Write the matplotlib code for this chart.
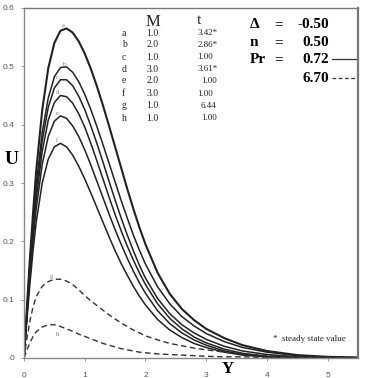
import matplotlib
matplotlib.use("Agg")
import matplotlib.pyplot as plt

Y = [0, 0.05, 0.1, 0.15, 0.2, 0.3, 0.4, 0.5, 0.6, 0.7, 0.8, 0.9, 1.0, 1.1, 1.2, 1.3, 1.4, 1.5,
     1.6, 1.7, 1.8, 1.9, 2.0, 2.2, 2.4, 2.6, 2.8, 3.0, 3.3, 3.6, 4.0, 4.5, 5.0, 5.5]

U_a = [0, 0.09, 0.175, 0.25, 0.32, 0.425, 0.497, 0.54, 0.561, 0.565, 0.558, 0.543, 0.522, 0.496, 0.466, 0.433,
       0.398, 0.362, 0.326, 0.29, 0.256, 0.224, 0.195, 0.146, 0.11, 0.084, 0.065, 0.05, 0.034, 0.022, 0.012,
       0.005, 0.002, 0.001]
U_b = [0, 0.085, 0.165, 0.235, 0.295, 0.387, 0.446, 0.482, 0.498, 0.499, 0.49, 0.474, 0.452, 0.426, 0.397, 0.366,
       0.334, 0.302, 0.27, 0.24, 0.211, 0.185, 0.161, 0.122, 0.093, 0.071, 0.055, 0.042, 0.028, 0.018, 0.01,
       0.004, 0.001, 0.0]
U_c = [0, 0.082, 0.16, 0.228, 0.285, 0.372, 0.43, 0.463, 0.477, 0.477, 0.467, 0.449, 0.426, 0.398, 0.368, 0.336,
       0.303, 0.271, 0.24, 0.211, 0.184, 0.159, 0.137, 0.102, 0.076, 0.057, 0.043, 0.032, 0.02, 0.012, 0.006,
       0.002, 0.001, 0.0]
U_d = [0, 0.078, 0.152, 0.217, 0.272, 0.354, 0.408, 0.438, 0.45, 0.448, 0.437, 0.419, 0.396, 0.368, 0.338, 0.307,
       0.276, 0.246, 0.218, 0.192, 0.168, 0.146, 0.126, 0.093, 0.068, 0.05, 0.036, 0.026, 0.015, 0.008, 0.003,
       0.001, 0.0, 0.0]
U_e = [0, 0.074, 0.143, 0.204, 0.255, 0.332, 0.38, 0.406, 0.415, 0.411, 0.398, 0.38, 0.357, 0.331, 0.303, 0.275,
       0.247, 0.22, 0.195, 0.171, 0.149, 0.129, 0.111, 0.081, 0.059, 0.043, 0.031, 0.022, 0.012, 0.006, 0.002,
       0.001, 0.0, 0.0]
U_f = [0, 0.068, 0.13, 0.185, 0.232, 0.3, 0.341, 0.362, 0.368, 0.362, 0.348, 0.329, 0.307, 0.283, 0.258, 0.233,
       0.208, 0.184, 0.162, 0.142, 0.123, 0.106, 0.091, 0.066, 0.048, 0.035, 0.025, 0.018, 0.01, 0.005, 0.002,
       0.001, 0.0, 0.0]
U_g = [0, 0.035, 0.065, 0.088, 0.105, 0.123, 0.131, 0.135, 0.135, 0.132, 0.126, 0.117, 0.107, 0.098, 0.09, 0.082,
       0.074, 0.067, 0.06, 0.054, 0.048, 0.043, 0.038, 0.031, 0.025, 0.021, 0.017, 0.014, 0.01, 0.007, 0.004,
       0.002, 0.001, 0.0]
U_h = [0, 0.014, 0.027, 0.037, 0.045, 0.053, 0.057, 0.057, 0.054, 0.05, 0.046, 0.041, 0.037, 0.033, 0.029, 0.025,
       0.022, 0.019, 0.016, 0.014, 0.012, 0.01, 0.009, 0.007, 0.006, 0.005, 0.004, 0.003, 0.002, 0.002, 0.001,
       0.0, 0.0, 0.0]

curve_names = ["a", "b", "c", "d", "e", "f", "g", "h"]
M_vals = ["1.0", "2.0", "1.0", "3.0", "2.0", "3.0", "1.0", "1.0"]
t_vals = ["3.42*", "2.86*", "1.00", "3.61*", "1.00", "1.00", "6.44", "1.00"]
params = [("Δ", "=", "-0.50"), ("n", "=", "0.50"), ("Pr", "=", "0.72")]
Pr2 = "6.70"
x_ticks = [0, 1, 2, 3, 4, 5]
y_ticks = [0, 0.1, 0.2, 0.3, 0.4, 0.5, 0.6]

fig = plt.figure(figsize=(3.78, 3.78), dpi=100)
ax = fig.add_axes([24/378, 1-358/378, 334/378, 350/378])

solid = [U_a, U_b, U_c, U_d, U_e, U_f]
for i, u in enumerate(solid):
    ax.plot(Y, u, color="#222222", lw=1.5 if i == 0 else 1.1, solid_joinstyle="round")
for u in [U_g, U_h]:
    ax.plot(Y, u, color="#333333", lw=1.0, ls=(0, (4, 2.5)))

# curve letters near peaks
series = [U_a, U_b, U_c, U_d, U_e, U_f, U_g]
for name, u in zip(curve_names[:7], series):
    k = max(range(len(u)), key=lambda j: u[j])
    ax.text(Y[k] - 0.05, u[k], name, fontsize=4.5, color="#777777",
            family="Liberation Serif", ha="center", va="bottom")
ax.text(0.56, 0.04, "h", fontsize=5, color="#777777", family="Liberation Serif",
        ha="center", va="center")

serif = "Liberation Serif"
ax.text(2.12, 0.576, "M", fontsize=12, family=serif, ha="center", va="center", color="#222222")
ax.text(2.88, 0.578, "t", fontsize=11, family=serif, ha="center", va="center", color="#222222")
rows_u = [0.557, 0.537, 0.516, 0.495, 0.475, 0.453, 0.432, 0.411]
t_x = [2.86, 2.86, 2.86, 2.86, 2.91, 2.86, 2.91, 2.91]
for i in range(8):
    ax.text(1.61, rows_u[i], curve_names[i], fontsize=7, family=serif, ha="left", va="center", color="#222222")
    ax.text(2.02, rows_u[i], M_vals[i], fontsize=7, family=serif, ha="left", va="center", color="#222222")
    ax.text(t_x[i], rows_u[i], t_vals[i], fontsize=6.5, family=serif, ha="left", va="center", color="#222222")

prow = [0.571, 0.540, 0.511]
for (s, eq, v), u in zip(params, prow):
    ax.text(3.72, u, s, fontsize=11, family=serif, weight="bold", ha="left", va="center")
    ax.text(4.2, u, eq, fontsize=11, family=serif, weight="bold", ha="center", va="center")
    ax.text(5.03, u, v, fontsize=11, family=serif, weight="bold", ha="right", va="center")
ax.text(5.03, 0.479, Pr2, fontsize=11, family=serif, weight="bold", ha="right", va="center")
ax.plot([5.08, 5.5], [0.513, 0.513], color="#333333", lw=0.9, clip_on=False)
ax.plot([5.08, 5.5], [0.480, 0.480], color="#333333", lw=0.9, ls=(0, (3, 2)), clip_on=False)

ax.text(4.1, 0.033, "*  steady state value", fontsize=6.5, family=serif, ha="left", va="center", color="#222222")

ax.set_xlim(0, 5.5)
ax.set_ylim(0, 0.6)
ax.set_xticks(x_ticks)
ax.set_yticks(y_ticks)
ax.set_xticklabels([str(v) for v in x_ticks])
ax.set_yticklabels(["0"] + [f"{v:.1f}" for v in y_ticks[1:]])
for lab in ax.get_xticklabels() + ax.get_yticklabels():
    lab.set_family("Liberation Sans")
    lab.set_fontsize(6)
    lab.set_color("#555555")
ax.tick_params(axis="both", length=2, width=0.6, color="#888888", pad=5)
ax.tick_params(axis="x", pad=8)

for side in ["left", "bottom"]:
    ax.spines[side].set_color("#888888")
    ax.spines[side].set_linewidth(1.0)
ax.spines["top"].set_color("#777777")
ax.spines["top"].set_linewidth(1.0)
ax.spines["right"].set_color("#777777")
ax.spines["right"].set_linewidth(1.6)

fig.text(12/378, 1-160/378, "U", fontsize=14, family=serif, weight="bold", ha="center", va="center")
fig.text(228/378, 1-369/378, "Y", fontsize=12, family=serif, weight="bold", ha="center", va="center")

fig.savefig("out.png", dpi=100)
